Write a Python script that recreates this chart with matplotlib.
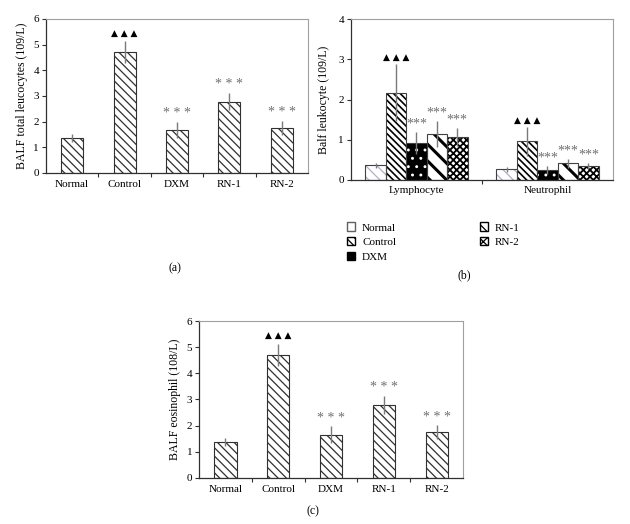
import numpy as np
import matplotlib as mpl
import matplotlib.pyplot as plt
from matplotlib.patches import Patch

plt.rcParams['font.family'] = ['Liberation Serif', 'DejaVu Sans']
plt.rcParams['font.size'] = 8
plt.rcParams['hatch.linewidth'] = 0.9

# ---------------- data ----------------
groups = ['Normal', 'Control', 'DXM', 'RN-1', 'RN-2']

# (a) BALF total leucocytes
total_mean = [1.36, 4.71, 1.66, 2.78, 1.75]
total_err = [0.15, 0.43, 0.31, 0.34, 0.26]
total_marks = ['', '▲ ▲ ▲', '* * *', '* * *', '* * *']

# (b) lymphocyte / neutrophil
cell_types = ['Lymphocyte', 'Neutrophil']
lympho_mean = [0.37, 2.17, 0.92, 1.15, 1.07]
lympho_err = [0.06, 0.71, 0.27, 0.32, 0.23]
neutro_mean = [0.27, 0.96, 0.24, 0.41, 0.35]
neutro_err = [0.06, 0.36, 0.10, 0.12, 0.08]
cell_marks = ['', '▲ ▲ ▲', '***', '***', '***']

# (c) BALF eosinophil
eos_mean = [1.36, 4.71, 1.66, 2.78, 1.75]
eos_err = [0.15, 0.43, 0.31, 0.34, 0.26]
eos_marks = ['', '▲ ▲ ▲', '* * *', '* * *', '* * *']

ERR_C = '#7a7a7a'
STAR_C = '#707070'


def thick_hatch(patch, lw):
    # hatch linewidth per patch (works on old and new matplotlib)
    if hasattr(patch, 'set_hatch_linewidth'):
        patch.set_hatch_linewidth(lw)
    orig = patch.draw

    def draw(renderer):
        with mpl.rc_context({'hatch.linewidth': lw}):
            orig(renderer)
    patch.draw = draw


def style_frame(ax):
    for s in ['top', 'right']:
        ax.spines[s].set_color('#a0a0a0')
        ax.spines[s].set_linewidth(0.8)
    for s in ['left', 'bottom']:
        ax.spines[s].set_color('#303030')
        ax.spines[s].set_linewidth(0.9)
    ax.tick_params(axis='y', direction='out', length=3, width=0.8,
                   colors='#303030', labelcolor='black', labelsize=8, pad=2)


def mark(ax, x, top, txt, dy):
    if not txt:
        return
    if '▲' in txt:
        ax.text(x, top + dy, txt, ha='center', va='bottom', fontsize=6.5,
                color='black', family=['DejaVu Sans'])
    else:
        ax.text(x, top + dy * 0.6, txt, ha='center', va='bottom', fontsize=10,
                color=STAR_C)


def simple_panel(ax, means, errs, marks, ylabel):
    x = np.arange(len(groups))
    ax.bar(x, means, width=0.42, color='white', edgecolor='#303030',
           hatch='\\\\\\\\', linewidth=0.8, zorder=2)
    ax.errorbar(x, means, yerr=errs, fmt='none', ecolor=ERR_C,
                elinewidth=1.0, capsize=0, zorder=3)
    for xi, m, e, t in zip(x, means, errs, marks):
        mark(ax, xi, m + e, t, 0.12)
    ax.set_xlim(-0.5, len(groups) - 0.5)
    ax.set_ylim(0, 6)
    ax.set_yticks(range(0, 7))
    ax.set_xticks(x[:-1] + 0.5)
    ax.set_xticklabels([])
    ax.set_xticks(x, minor=True)
    ax.set_xticklabels(groups, minor=True)
    ax.tick_params(axis='x', which='major', direction='out', length=3,
                   width=0.8, colors='#303030')
    ax.tick_params(axis='x', which='minor', length=0, labelsize=8, pad=5)
    ax.set_ylabel(ylabel, fontsize=8.5, labelpad=4)
    style_frame(ax)


fig = plt.figure(figsize=(6.3, 5.24), dpi=100)

# ---------------- (a) ----------------
ax_a = fig.add_axes([0.073, 0.670, 0.416, 0.294])
simple_panel(ax_a, total_mean, total_err, total_marks,
             'BALF total leucocytes (109/L)')
fig.text(0.278, 0.488, '(a)', ha='center', va='center', fontsize=8.5)

# ---------------- (b) ----------------
ax_b = fig.add_axes([0.557, 0.6565, 0.416, 0.3072])
bw = 0.156
xg = np.arange(len(cell_types))
offsets = (np.arange(len(groups)) - 2) * bw
series_mean = np.array([lympho_mean, neutro_mean]).T
series_err = np.array([lympho_err, neutro_err]).T

styles = [
    dict(color='white', edgecolor='#b0b0cc', hatch='\\\\\\'),
    dict(color='white', edgecolor='black', hatch='\\\\\\\\\\'),
    dict(color='black', edgecolor='white', hatch='..'),
    dict(color='white', edgecolor='black', hatch='\\\\'),
    dict(color='white', edgecolor='black', hatch='xxxxx'),
]
legend_hatch = [None, '\\\\\\\\', None, '\\\\\\', 'xxxx']
hatch_lw = [0.9, 1.2, 0.9, 2.2, 1.3]
handles = []
for k, g in enumerate(groups):
    pos = xg + offsets[k]
    bars = ax_b.bar(pos, series_mean[k], width=bw, linewidth=0,
                    zorder=2, **styles[k])
    if hatch_lw[k] != 0.9:
        for p in bars:
            thick_hatch(p, hatch_lw[k])
    ax_b.bar(pos, series_mean[k], width=bw, fill=False, edgecolor='#404040',
             linewidth=0.8, zorder=2.5)
    ax_b.errorbar(pos, series_mean[k], yerr=series_err[k], fmt='none',
                  ecolor=ERR_C, elinewidth=1.0, capsize=0, zorder=3)
    for xi, m, e in zip(pos, series_mean[k], series_err[k]):
        mark(ax_b, xi, m + e, cell_marks[k], 0.06)
    if k == 2:
        handles.append(Patch(facecolor='black', edgecolor='black', label=g))
    elif k == 0:
        handles.append(Patch(facecolor='white', edgecolor='#606060', label=g))
    else:
        handles.append(Patch(facecolor='white', edgecolor='black',
                             hatch=legend_hatch[k], label=g))

ax_b.set_xlim(-0.5, 1.5)
ax_b.set_ylim(0, 4)
ax_b.set_yticks(range(0, 5))
ax_b.set_xticks([0.5])
ax_b.set_xticklabels([])
ax_b.set_xticks(xg, minor=True)
ax_b.set_xticklabels(cell_types, minor=True)
ax_b.tick_params(axis='x', which='major', direction='out', length=3,
                 width=0.8, colors='#303030')
ax_b.tick_params(axis='x', which='minor', length=0, labelsize=8, pad=4)
ax_b.set_ylabel('Balf leukocyte (109/L)', fontsize=8.5, labelpad=6)
style_frame(ax_b)

fig.legend(handles=handles, loc='upper left', bbox_to_anchor=(0.543, 0.584),
           ncol=2, frameon=False, fontsize=8, handlelength=0.8,
           handleheight=0.8, handletextpad=0.6, labelspacing=0.4,
           columnspacing=7.5, borderaxespad=0)
fig.text(0.737, 0.475, '(b)', ha='center', va='center', fontsize=8.5)

# ---------------- (c) ----------------
ax_c = fig.add_axes([0.316, 0.0878, 0.419, 0.2996])
simple_panel(ax_c, eos_mean, eos_err, eos_marks,
             'BALF eosinophil (108/L)')
fig.text(0.497, 0.025, '(c)', ha='center', va='center', fontsize=8.5)

fig.savefig('out.png', dpi=100)
